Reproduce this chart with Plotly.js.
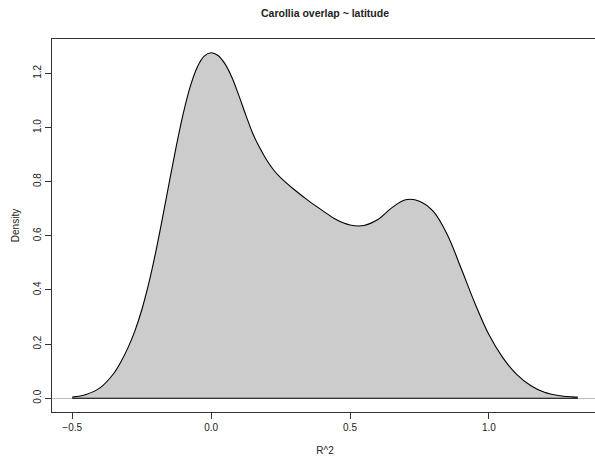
<!DOCTYPE html>
<html>
<head>
<meta charset="utf-8">
<script src="https://cdn.plot.ly/plotly-3.0.1.min.js"></script>
<style>
  html, body { margin: 0; padding: 0; overflow: hidden; background: #fff; }
  #chart { width: 599px; height: 459px; }
</style>
</head>
<body>
<div id="chart"></div>
<script>
// Kernel density estimate of R^2 values (Carollia overlap vs latitude)
const r2 = [-0.50, -0.45, -0.40, -0.35,
            -0.325, -0.300, -0.275, -0.250, -0.225, -0.200, -0.175, -0.150, -0.125,
            -0.100, -0.075, -0.050, -0.025, 0.000, 0.025, 0.050, 0.075,
            0.100, 0.125, 0.150, 0.175, 0.200, 0.225, 0.250,
            0.30, 0.35, 0.40, 0.45,
            0.50, 0.55, 0.60, 0.65, 0.70, 0.75, 0.80, 0.85, 0.90,
            0.95, 1.00, 1.05, 1.10, 1.15, 1.20, 1.25, 1.30, 1.32];
const density = [0.004, 0.014, 0.038, 0.092,
                 0.134, 0.185, 0.247, 0.325, 0.422, 0.537, 0.666, 0.801, 0.933,
                 1.053, 1.152, 1.223, 1.264, 1.276, 1.266, 1.235, 1.185,
                 1.118, 1.046, 0.978, 0.925, 0.880, 0.843, 0.815,
                 0.770, 0.730, 0.694, 0.660,
                 0.640, 0.638, 0.660, 0.703, 0.733, 0.728, 0.690, 0.605, 0.480,
                 0.350, 0.235, 0.150, 0.088, 0.047, 0.022, 0.010, 0.005, 0.004];

const xTicks = [-0.5, 0.0, 0.5, 1.0];
const yTicks = [0.0, 0.2, 0.4, 0.6, 0.8, 1.0, 1.2];

const titleText = 'Carollia overlap ~ latitude';
const xLabel = 'R^2';
const yLabel = 'Density';

// axis limits padded 4% beyond the data, base-graphics style
const xMin = Math.min(...r2), xMax = Math.max(...r2);
const yMax = Math.max(...density);
const xPad = 0.04 * (xMax - xMin);
const yPad = 0.04 * yMax;

const ink = '#222';
const axisInk = '#333';

const traces = [
  {
    x: r2,
    y: density,
    type: 'scatter',
    mode: 'lines',
    line: { color: '#000', width: 1.1, shape: 'spline', smoothing: 1 },
    fill: 'tozeroy',
    fillcolor: '#CCCCCC',
    hoverinfo: 'x+y'
  },
  {
    // base edge of the shaded polygon
    x: [r2[0], r2[r2.length - 1]],
    y: [0, 0],
    type: 'scatter',
    mode: 'lines',
    line: { color: '#000', width: 1.1 },
    hoverinfo: 'skip'
  }
];

const layout = {
  width: 599,
  height: 459,
  margin: { l: 52, r: 1, t: 39, b: 47 },
  paper_bgcolor: '#fff',
  plot_bgcolor: '#fff',
  showlegend: false,
  font: { family: 'Liberation Sans, Arial, Helvetica, sans-serif', size: 10, color: ink },
  title: {
    text: '<b>' + titleText + '</b>',
    font: { size: 10.5, color: ink },
    x: (52 + 598) / 2 / 599,
    xanchor: 'center',
    xref: 'container',
    y: 1 - 13 / 459,
    yanchor: 'middle',
    yref: 'container'
  },
  xaxis: {
    range: [xMin - xPad, xMax + xPad],
    tickvals: xTicks,
    tickformat: '.1f',
    ticks: 'outside',
    ticklen: 6,
    tickwidth: 1,
    tickcolor: axisInk,
    showline: true,
    mirror: true,
    linecolor: axisInk,
    linewidth: 1,
    showgrid: false,
    zeroline: false,
    tickfont: { size: 10, color: ink },
    title: { text: xLabel, font: { size: 10, color: ink }, standoff: 14 }
  },
  yaxis: {
    range: [-yPad, yMax + yPad],
    tickvals: yTicks,
    tickformat: '.1f',
    tickangle: -90,
    ticks: 'outside',
    ticklen: 6,
    tickwidth: 1,
    tickcolor: axisInk,
    showline: true,
    mirror: true,
    linecolor: axisInk,
    linewidth: 1,
    showgrid: false,
    zeroline: true,
    zerolinecolor: '#BEBEBE',
    zerolinewidth: 1,
    tickfont: { size: 10, color: ink },
    title: { text: yLabel, font: { size: 10, color: ink }, standoff: 10 }
  }
};

Plotly.newPlot('chart', traces, layout, { displayModeBar: false, staticPlot: true });
</script>
</body>
</html>
